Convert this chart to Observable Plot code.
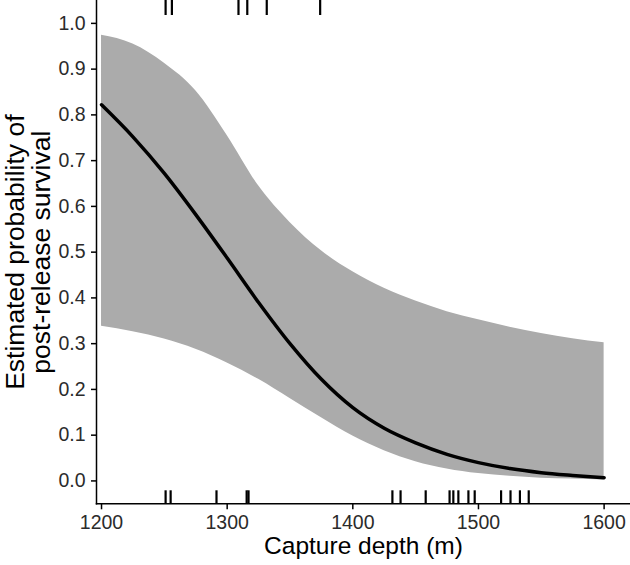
<!DOCTYPE html>
<html><head><meta charset="utf-8">
<script src="https://cdn.jsdelivr.net/npm/d3@7"></script>
<script src="https://cdn.jsdelivr.net/npm/@observablehq/plot@0.6"></script>
<style>body{margin:0;background:#fff}</style>
</head><body><div id="chart"></div>
<script>
// Capture depth (m) grid for the fitted curve and its confidence band
const depth = [1200,1225,1250,1275,1300,1325,1350,1375,1400,1425,1450,1475,1500,1525,1550,1575,1600];
const fit   = [0.822,0.752,0.672,0.582,0.487,0.390,0.300,0.222,0.160,0.115,0.083,0.058,0.040,0.027,0.018,0.012,0.007];
const lower = [0.338,0.326,0.310,0.288,0.258,0.222,0.180,0.138,0.098,0.066,0.042,0.026,0.016,0.010,0.006,0.004,0.002];
const upper = [0.974,0.955,0.913,0.853,0.755,0.645,0.565,0.503,0.457,0.421,0.393,0.370,0.352,0.336,0.322,0.311,0.302];
// Observed captures: survived (top rug) and died (bottom rug)
const rugTop = [1251,1256,1309,1316,1331.5,1374];
const rugBottom = [1251,1255,1291.5,1315.5,1317,1431.5,1438,1458,1477,1480,1484,1492,1497,1518,1525.5,1533,1540];
const yTicks = [0,0.1,0.2,0.3,0.4,0.5,0.6,0.7,0.8,0.9,1.0];
const xTicks = [1200,1300,1400,1500,1600];
const xTitle = "Capture depth (m)";
const yTitle = "Estimated probability of\npost-release survival";

const rows = depth.map((d, i) => ({depth: d, fit: fit[i], lower: lower[i], upper: upper[i]}));

const chart = Plot.plot({
  width: 630, height: 565,
  marginLeft: 96, marginRight: 0, marginTop: 0, marginBottom: 61.7,
  x: {domain: [1196, 1621]},
  y: {domain: [-0.05, 1.05]},
  style: {fontFamily: "'Liberation Sans', Arial, sans-serif", fontSize: "19px", background: "#fff", color: "#000"},
  marks: [
    Plot.areaY(rows, {x: "depth", y1: "lower", y2: "upper", fill: "#ababab", curve: "monotone-x"}),
    Plot.lineY(rows, {x: "depth", y: "fit", stroke: "#000", strokeWidth: 3.5, curve: "monotone-x"}),
    Plot.ruleX(rugBottom, {x: d => d, insetTop: 490.3, stroke: "#000", strokeWidth: 2.2}),
    Plot.ruleX(rugTop, {x: d => d, insetBottom: 488.3, stroke: "#000", strokeWidth: 2.2}),
    Plot.frame({anchor: "left", stroke: "#000", strokeWidth: 1.5}),
    Plot.frame({anchor: "bottom", stroke: "#000", strokeWidth: 1.5}),
    Plot.axisY({ticks: yTicks, tickFormat: d3.format(".1f"), tickSize: 5, tickPadding: 6, label: null, fontSize: 19.5, stroke: "#000", fill: "#2b2b2b", strokeWidth: 1.5}),
    Plot.axisX({ticks: xTicks, tickFormat: d => String(d), tickSize: 6, tickPadding: 5, label: null, fontSize: 19.5, stroke: "#000", fill: "#2b2b2b", strokeWidth: 1.5}),
    Plot.text([xTitle], {frameAnchor: "bottom", dy: 50, lineAnchor: "bottom", textAnchor: "middle", fontSize: 24.5, fill: "#000"}),
    Plot.text([yTitle], {frameAnchor: "left", dx: -68, rotate: -90, textAnchor: "middle", lineAnchor: "middle", fontSize: 26.5, lineHeight: 0.97, fill: "#000"})
  ]
});
document.getElementById("chart").appendChild(chart);
</script>
</body></html>
